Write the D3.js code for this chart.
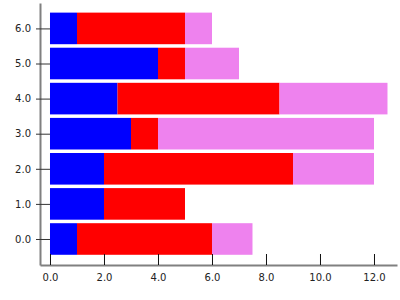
<!DOCTYPE html>
<html>
<head>
<meta charset="utf-8">
<script src="https://cdn.jsdelivr.net/npm/d3@7"></script>
<style>
  body { margin: 0; background: #fff; }
  svg { display: block; }
  .tick text { font-family: "DejaVu Sans", sans-serif; font-size: 10px; fill: #222; }
</style>
</head>
<body>
<svg id="chart" width="400" height="300"></svg>
<script>
const categories = [0, 1, 2, 3, 4, 5, 6];
const blueValues = [1, 2, 2, 3, 2.5, 4, 1];
const redValues = [5, 3, 7, 1, 6, 1, 4];
const violetValues = [1.5, 0, 3, 8, 4, 2, 1];
const xTicks = [0, 2, 4, 6, 8, 10, 12];
const seriesColors = ['blue', 'red', 'violet'];

const rows = categories.map((c, i) => ({
  cat: c, blue: blueValues[i], red: redValues[i], violet: violetValues[i]
}));
const stacked = d3.stack().keys(['blue', 'red', 'violet'])(rows);

const svg = d3.select("#chart");

const x = d3.scaleLinear().domain([-0.370, 12.852]).range([40, 397]);
const y = d3.scaleLinear().domain([-0.741, 6.724]).range([265, 3]);
const barH = 0.9;

svg.selectAll("g.series")
  .data(stacked)
  .enter()
  .append("g")
  .attr("class", "series")
  .style("fill", (d, i) => seriesColors[i])
  .selectAll("rect")
  .data(d => d)
  .enter()
  .append("rect")
  .attr("x", d => x(d[0]))
  .attr("width", d => x(d[1]) - x(d[0]))
  .attr("y", d => y(d.data.cat + barH / 2))
  .attr("height", d => y(d.data.cat - barH / 2) - y(d.data.cat + barH / 2));

const xAxis = svg.append("g")
  .attr("transform", "translate(0,265)")
  .call(d3.axisBottom(x).tickValues(xTicks).tickFormat(d3.format(".1f"))
    .tickSizeInner(-11).tickSizeOuter(0).tickPadding(9));
xAxis.select(".domain").attr("stroke", "#808080").attr("stroke-width", 2);
xAxis.selectAll(".tick line").attr("stroke", "#111");

const yAxis = svg.append("g")
  .attr("transform", "translate(40,0)")
  .call(d3.axisLeft(y).tickValues(categories).tickFormat(d3.format(".1f"))
    .tickSizeInner(4).tickSizeOuter(0).tickPadding(5));
yAxis.select(".domain").attr("stroke", "#808080").attr("stroke-width", 2);
yAxis.selectAll(".tick line").attr("stroke", "#333").attr("x1", 10);
</script>
</body>
</html>
